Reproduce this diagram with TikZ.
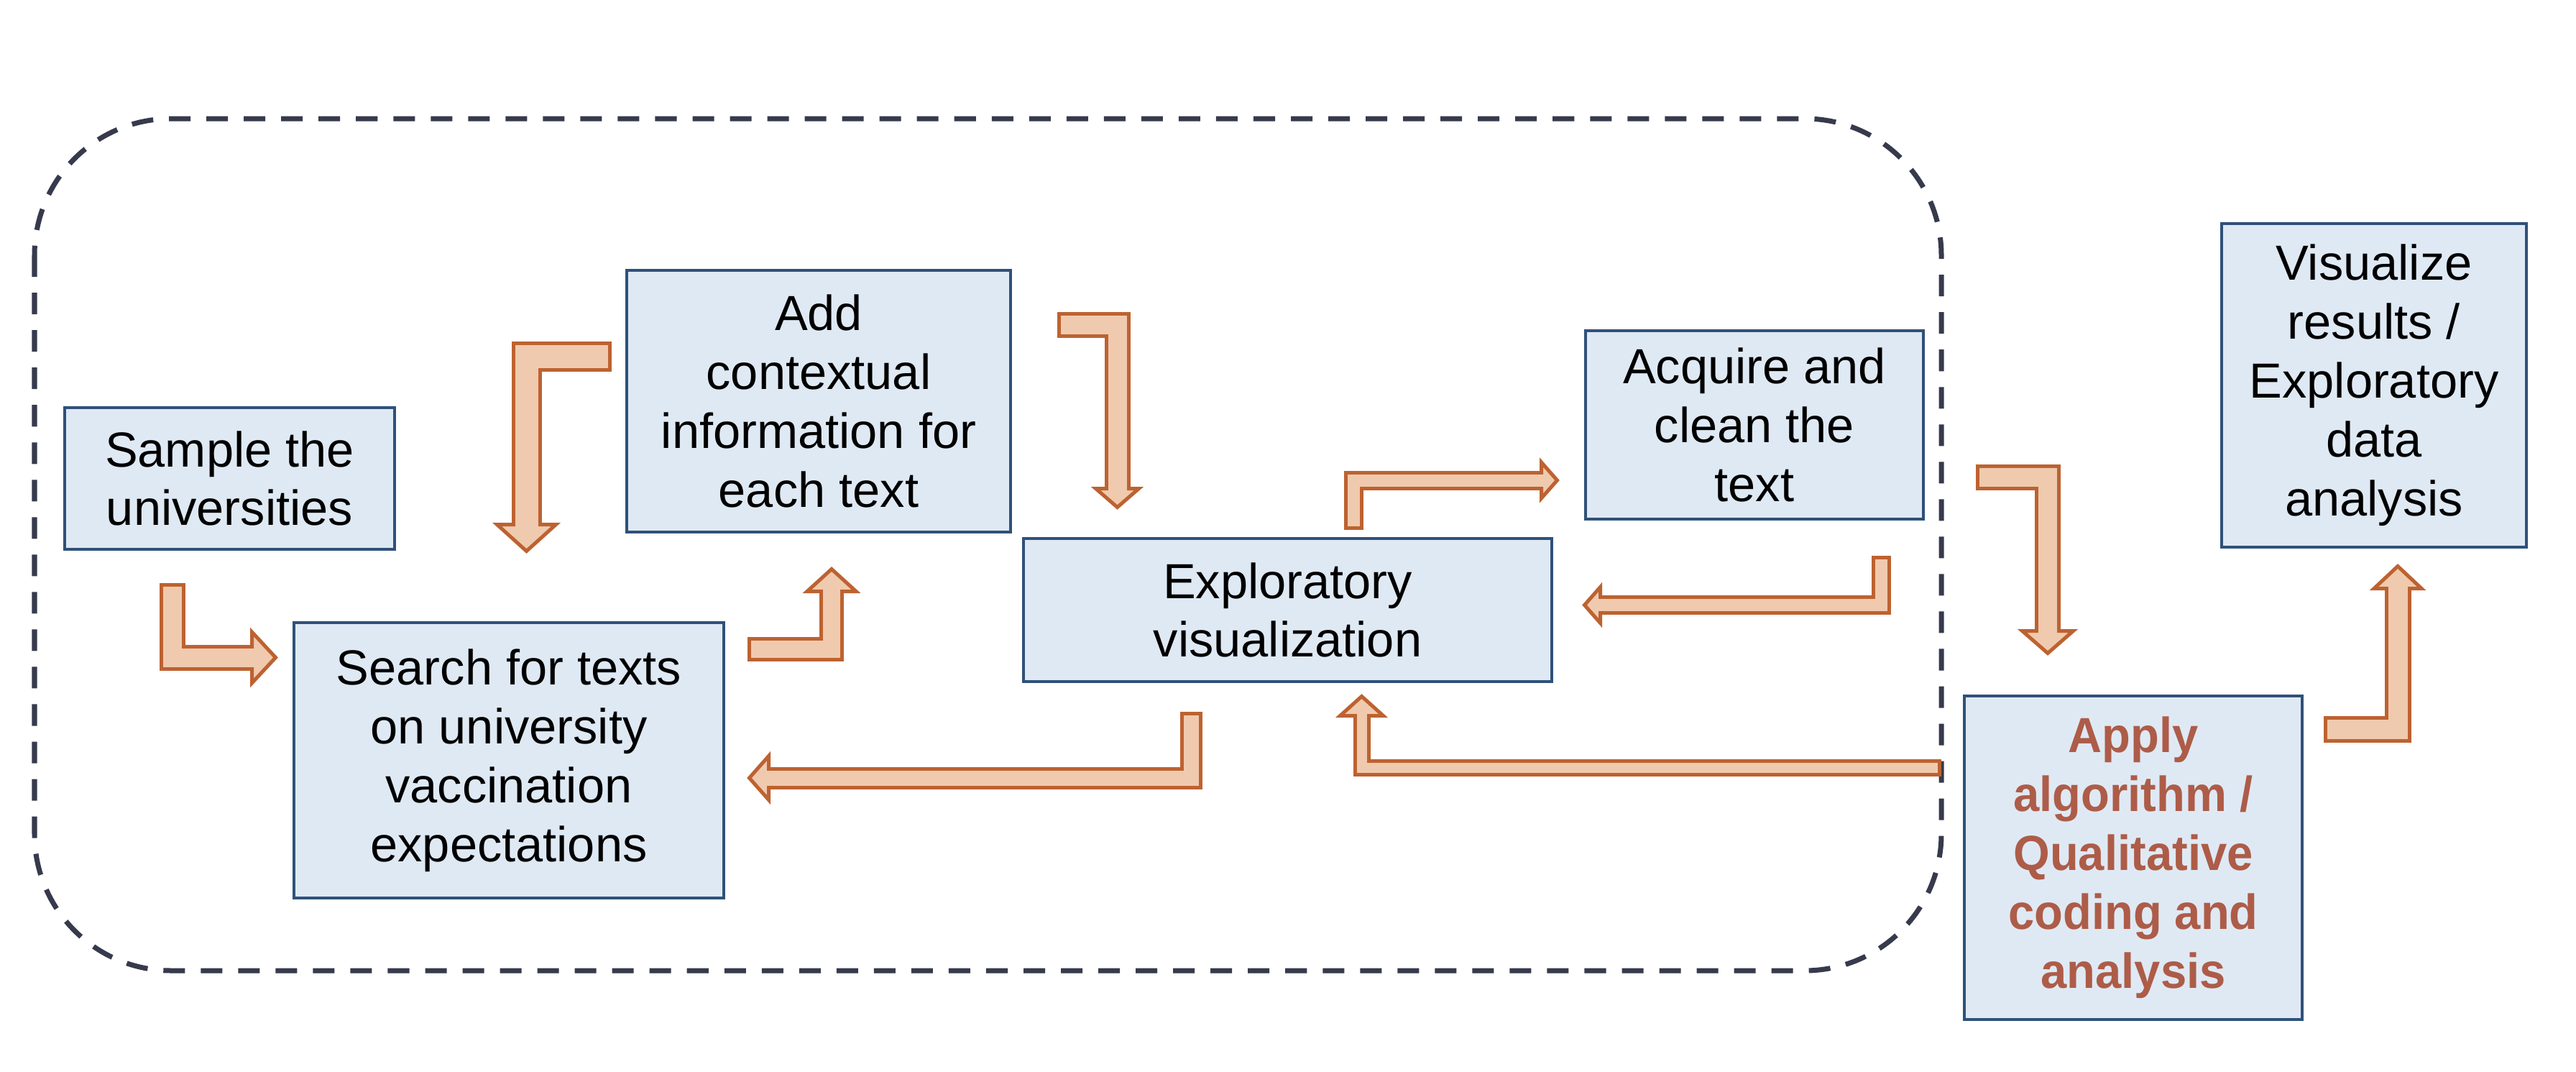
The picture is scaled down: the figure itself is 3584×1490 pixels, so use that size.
\documentclass[tikz,border=0pt]{standalone}
\usepackage{fontspec}
\setmainfont{Liberation Sans}[BoldFeatures={FakeStretch=0.95}]
\usetikzlibrary{calc}

\definecolor{boxfill}{HTML}{DFE9F4}
\definecolor{boxline}{HTML}{2F5179}
\definecolor{arrfill}{HTML}{F0CAAE}
\definecolor{arrline}{HTML}{BD6231}
\definecolor{dashline}{HTML}{363A4C}
\definecolor{redtext}{HTML}{AD5C48}

\tikzset{stepbox/.style={draw=boxline, fill=boxfill, line width=0.04cm,
    align=center, inner sep=0pt,
    font=\fontsize{19.5pt}{23.3pt}\selectfont}}

% shaft, head half width, head length, dx, dy, path, base of head
\newcommand{\flowarrow}[7]{%
  \draw[arrline, line width=#1*0.01cm, line join=miter] #6 #7;
  \filldraw[fill=arrfill, draw=arrline, line width=0.05cm, line join=miter]
    ($#7+#2*(#5,#4)$) -- ($#7+#3*(#4,#5)$) -- ($#7-#2*(#5,#4)$) -- cycle;
  \draw[arrfill, line width=(#1-10)*0.01cm, line join=miter,
    shorten <=0.05cm, shorten >=-0.04cm] #6 #7;
}

\begin{document}
\begin{tikzpicture}[x=0.01cm,y=-0.01cm]
    \useasboundingbox (0,0) rectangle (3584,1490);

    \draw[dashline, line width=0.07cm, dash pattern=on 0.3cm off 0.22cm,
      rounded corners=1.9cm] (48,165) rectangle (2701,1350);

    \node[stepbox, minimum width=4.59cm, minimum height=1.97cm] (sample)
      at (319.5,665.5) {Sample the\\universities};
    \node[stepbox, minimum width=5.98cm, minimum height=3.83cm] (search)
      at (708,1057.5) {Search for texts\\on university\\vaccination\\expectations};
    \node[stepbox, minimum width=5.34cm, minimum height=3.64cm] (add)
      at (1139,558) {Add\\contextual\\information for\\each text};
    \node[stepbox, minimum width=7.35cm, minimum height=1.99cm] (explor)
      at (1791.5,848.5) {Exploratory\\visualization};
    \node[stepbox, minimum width=4.70cm, minimum height=2.62cm] (acquire)
      at (2441,591) {Acquire and\\clean the\\text};
    \node[stepbox, minimum width=4.70cm, minimum height=4.50cm,
      text=redtext, font=\fontsize{19.5pt}{23.3pt}\selectfont\bfseries] (apply)
      at (2968,1193) {Apply\\algorithm /\\Qualitative\\coding and\\analysis};
    \node[stepbox, minimum width=4.24cm, minimum height=4.50cm] (visual)
      at (3303,536) {Visualize\\results /\\Exploratory\\data\\analysis};

    \flowarrow{36}{35.5}{33}{1}{0}{(239.5,811) -- (239.5,914.5) --}{(350.5,914.5)}
    \flowarrow{42}{41}{37}{0}{1}{(851,495.5) -- (732.5,495.5) --}{(732.5,729.5)}
    \flowarrow{34}{34}{31}{0}{-1}{(1040,903) -- (1157,903) --}{(1157,822.5)}
    \flowarrow{36}{30}{26}{0}{1}{(1471,452) -- (1554.5,452) --}{(1554.5,679.5)}
    \flowarrow{31}{30.5}{27}{-1}{0}{(1657.5,990) -- (1657.5,1082) --}{(1069.5,1082)}
    \flowarrow{27}{25}{22}{1}{0}{(1883,737) -- (1883,668) --}{(2144.5,668)}
    \flowarrow{27}{25}{22}{-1}{0}{(2617,773) -- (2617,841.5) --}{(2226.5,841.5)}
    \flowarrow{24}{30}{27}{0}{-1}{(2701,1068) -- (1894.5,1068) --}{(1894.5,995.5)}
    \flowarrow{36}{35.5}{31}{0}{1}{(2749,663.5) -- (2849,663.5) --}{(2849,877.5)}
    \flowarrow{37}{33}{31}{0}{-1}{(3233,1014.5) -- (3336,1014.5) --}{(3336,818.5)}
\end{tikzpicture}
\end{document}
